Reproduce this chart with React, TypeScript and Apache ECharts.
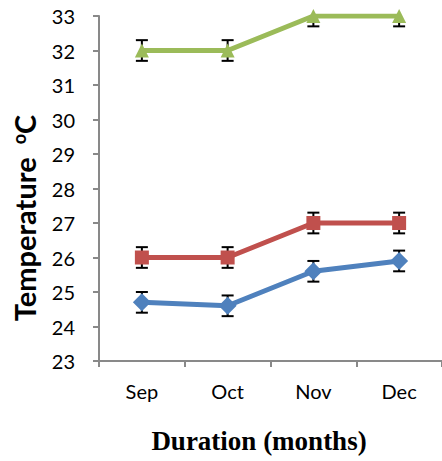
import React, { useEffect, useRef } from "react";
import * as echarts from "echarts";

const months = ["Sep", "Oct", "Nov", "Dec"];
const seriesA = [24.7, 24.6, 25.6, 25.9]; // blue diamonds
const seriesB = [26, 26, 27, 27]; // red squares
const seriesC = [32, 32, 33, 33]; // green triangles
const errA = [0.3, 0.3, 0.3, 0.3];
const errB = [0.3, 0.3, 0.3, 0.3];
const errC = [0.3, 0.3, 0.3, 0.3];
const xTitle = "Duration (months)";
const yTitle = "Temperature {gap| }{sup|o}C";

const errData = (vals: number[], errs: number[]) =>
  vals.map((v, i) => [i, v - errs[i], v + errs[i]]);

const errSeries = (vals: number[], errs: number[]) => ({
  type: "custom",
  clip: true,
  z: 1,
  data: errData(vals, errs),
  encode: { x: 0, y: [1, 2] },
  renderItem: (params: any, api: any) => {
    const i = api.value(0);
    const lo = api.coord([i, api.value(1)]);
    const hi = api.coord([i, api.value(2)]);
    const hw = 6;
    const style = { stroke: "#000", lineWidth: 2 };
    return {
      type: "group",
      children: [
        { type: "line", shape: { x1: lo[0], y1: lo[1], x2: hi[0], y2: hi[1] }, style },
        { type: "line", shape: { x1: lo[0] - hw, y1: lo[1], x2: lo[0] + hw, y2: lo[1] }, style },
        { type: "line", shape: { x1: hi[0] - hw, y1: hi[1], x2: hi[0] + hw, y2: hi[1] }, style },
      ],
    };
  },
});

const lineSeries = (vals: number[], color: string, symbol: string, size: number) => ({
  type: "line",
  data: vals,
  z: 3,
  symbol,
  symbolSize: size,
  lineStyle: { color, width: 5 },
  itemStyle: { color },
});

export default function App() {
  const ref = useRef<HTMLDivElement>(null);
  useEffect(() => {
    if (!ref.current) return;
    const chart = echarts.init(ref.current, null, { renderer: "svg" });
    chart.setOption({
      animation: false,
      backgroundColor: "#fff",
      grid: { left: 99, top: 16, width: 347, height: 345 },
      xAxis: {
        type: "category",
        data: months,
        boundaryGap: true,
        axisLine: { lineStyle: { color: "#898989", width: 2 } },
        axisTick: { show: true, length: 6, lineStyle: { color: "#898989", width: 2 } },
        axisLabel: { color: "#000", fontSize: 20, fontFamily: "Lato", margin: 20 },
      },
      yAxis: {
        type: "value",
        min: 23,
        max: 33,
        interval: 1,
        splitLine: { show: false },
        axisLine: { show: true, lineStyle: { color: "#898989", width: 2 } },
        axisTick: { show: true, length: 6, lineStyle: { color: "#898989", width: 2 } },
        axisLabel: { color: "#000", fontSize: 20, fontFamily: "Lato", margin: 24 },
      },
      graphic: [
        {
          type: "text",
          x: 259,
          y: 441,
          style: {
            text: xTitle,
            fill: "#000",
            fontSize: 27,
            fontWeight: "bold",
            fontFamily: "Liberation Serif",
            align: "center",
            verticalAlign: "middle",
          },
        },
        {
          type: "text",
          x: 24,
          y: 218,
          rotation: Math.PI / 2,
          style: {
            text: yTitle,
            fill: "#000",
            fontSize: 29,
            fontWeight: "bold",
            fontFamily: "Lato",
            align: "center",
            verticalAlign: "middle",
            rich: {
              gap: { width: 6, fontSize: 29 },
              sup: {
                fontSize: 18,
                fontWeight: "bold",
                fontFamily: "Lato",
                fill: "#000",
                verticalAlign: "top",
                padding: [0, 0, 11, 0],
              },
            },
          },
        },
      ],
      series: [
        errSeries(seriesA, errA),
        errSeries(seriesB, errB),
        errSeries(seriesC, errC),
        lineSeries(seriesA, "#4F81BD", "diamond", 18),
        lineSeries(seriesB, "#C0504D", "rect", 14),
        lineSeries(seriesC, "#9BBB59", "triangle", 14),
      ],
    });
    return () => chart.dispose();
  }, []);
  return <div ref={ref} style={{ width: 442, height: 461, position: "absolute", left: 0, top: 0 }} />;
}
